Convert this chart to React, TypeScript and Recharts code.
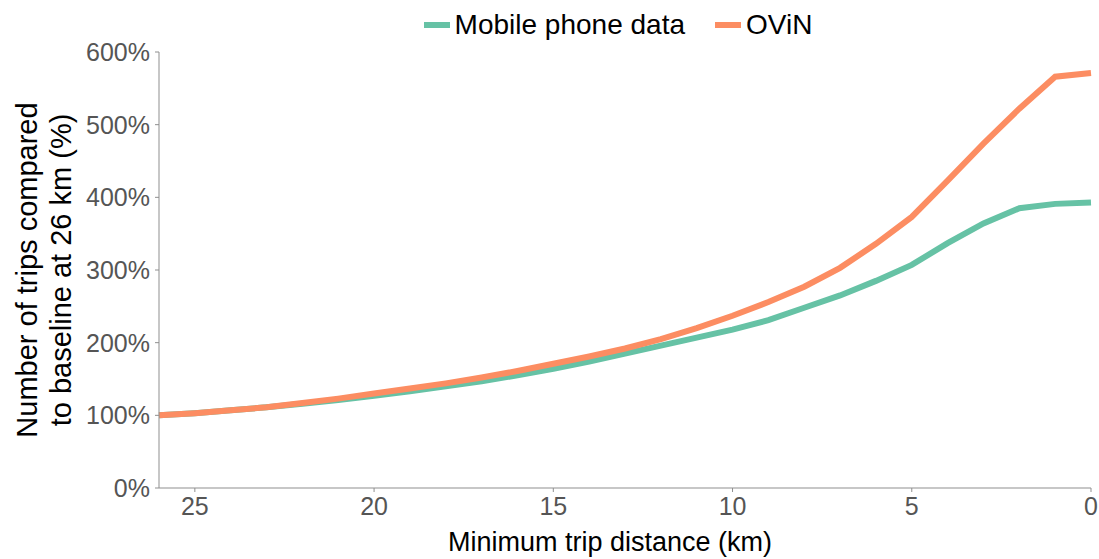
import React from 'react';
import { LineChart, Line, XAxis, YAxis, Label } from 'recharts';

// minimum trip distance in km, from 26 down to 0
const distances = [26, 25, 24, 23, 22, 21, 20, 19, 18, 17, 16, 15, 14, 13, 12, 11, 10, 9, 8, 7, 6, 5, 4, 3, 2, 1, 0];

// trips relative to the 26 km baseline (%)
const mobilePhone = [100, 103, 107, 111, 116, 121, 127, 133, 140, 147, 155, 164, 174, 185, 196, 207, 218, 231, 248, 265, 285, 307, 337, 364, 385, 391, 393];
const ovin = [100, 103, 107, 111, 117, 123, 130, 137, 144, 152, 161, 171, 181, 192, 205, 220, 237, 256, 277, 303, 336, 373, 423, 474, 522, 566, 571];

const xTicks = [25, 20, 15, 10, 5, 0];
const yTicks = [0, 100, 200, 300, 400, 500, 600];

const GREEN = '#66c2a5';
const ORANGE = '#fc8d62';
const AXIS = '#8f8f8f';
const TICK_TEXT = '#555555';
const FONT = '"Liberation Sans", Arial, sans-serif';

const rows = distances.map((d, i) => ({ d, mobile: mobilePhone[i], ovin: ovin[i] }));

const series = [
  { key: 'mobile', name: 'Mobile phone data', color: GREEN },
  { key: 'ovin', name: 'OViN', color: ORANGE },
];

function LegendRow() {
  return (
    <div
      style={{
        position: 'absolute',
        top: 9,
        left: 0,
        width: 1099,
        display: 'flex',
        justifyContent: 'center',
        paddingLeft: 137,
        boxSizing: 'border-box',
        fontFamily: FONT,
        fontSize: 28,
        color: '#000',
        gap: 30,
      }}
    >
      {series.map((s) => (
        <div key={s.key} style={{ display: 'flex', alignItems: 'center' }}>
          <span style={{ width: 26, height: 6, background: s.color, marginRight: 5, display: 'inline-block' }} />
          <span>{s.name}</span>
        </div>
      ))}
    </div>
  );
}

function YTitle() {
  const cy = 270;
  return (
    <g fontFamily={FONT} fontSize={29} fill="#000">
      <text x={27} y={cy} transform={`rotate(-90, 27, ${cy})`} textAnchor="middle" dominantBaseline="central">
        Number of trips compared
      </text>
      <text x={61} y={cy} transform={`rotate(-90, 61, ${cy})`} textAnchor="middle" dominantBaseline="central">
        to baseline at 26 km (%)
      </text>
    </g>
  );
}

export default function App() {
  return (
    <div style={{ position: 'absolute', left: 0, top: 0, width: 1099, height: 559, background: '#fff' }}>
      <LegendRow />
      <LineChart width={1099} height={559} data={rows} margin={{ top: 52, right: 8, bottom: 0, left: 0 }}>
        <XAxis
          dataKey="d"
          type="number"
          domain={[0, 26]}
          reversed
          ticks={xTicks}
          height={71}
          stroke={AXIS}
          tickSize={4}
          tickMargin={5}
          tick={{ fill: TICK_TEXT, fontSize: 25, fontFamily: FONT }}
        >
          <Label
            content={() => (
              <text x={610} y={542} textAnchor="middle" dominantBaseline="central" fontFamily={FONT} fontSize={27} fill="#000">
                Minimum trip distance (km)
              </text>
            )}
          />
        </XAxis>
        <YAxis
          type="number"
          domain={[0, 600]}
          ticks={yTicks}
          width={159}
          stroke={AXIS}
          tickSize={4}
          tickMargin={5}
          tickFormatter={(v: number) => `${v}%`}
          tick={{ fill: TICK_TEXT, fontSize: 25, fontFamily: FONT }}
        >
          <Label content={() => <YTitle />} />
        </YAxis>
        {series.map((s) => (
          <Line
            key={s.key}
            dataKey={s.key}
            name={s.name}
            type="linear"
            stroke={s.color}
            strokeWidth={6}
            dot={false}
            activeDot={false}
            isAnimationActive={false}
          />
        ))}
      </LineChart>
    </div>
  );
}
